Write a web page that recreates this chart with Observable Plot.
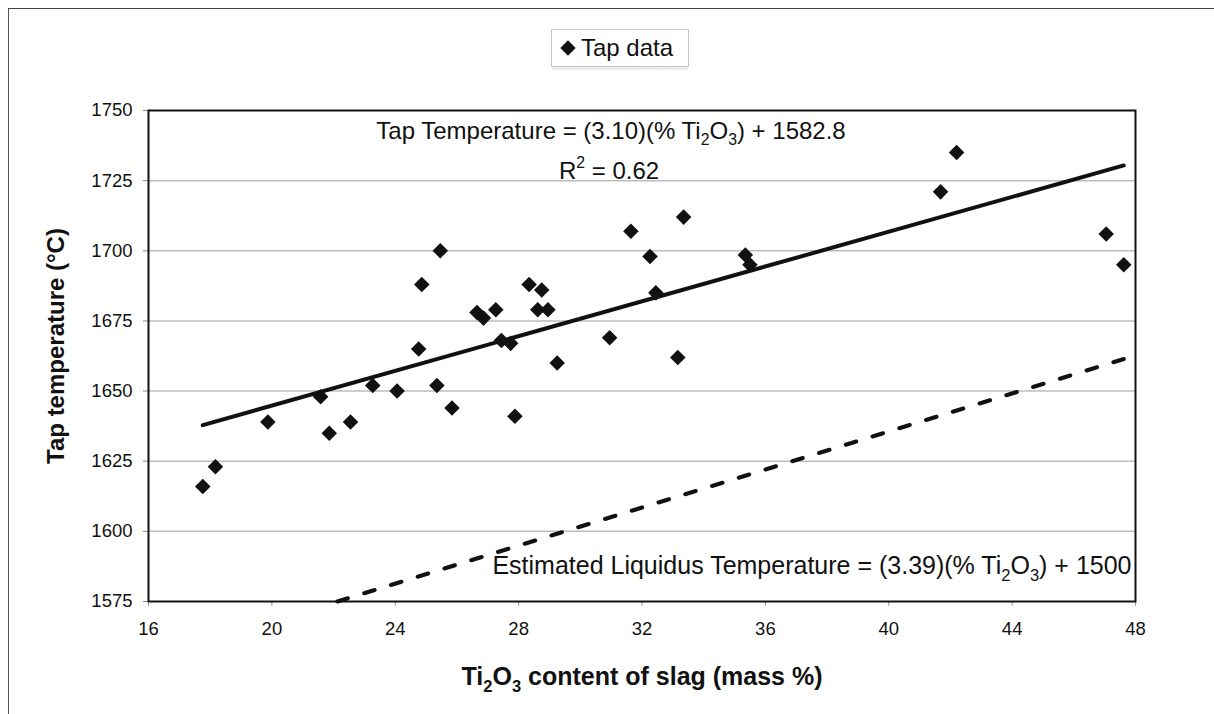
<!DOCTYPE html>
<html>
<head>
<meta charset="utf-8">
<script src="https://cdn.jsdelivr.net/npm/d3@7"></script>
<script src="https://cdn.jsdelivr.net/npm/@observablehq/plot@0.6"></script>
<style>
  html, body { margin: 0; padding: 0; background: #fff; }
  body { width: 1214px; height: 714px; position: relative; overflow: hidden;
         font-family: "Liberation Sans", Arial, sans-serif; }
  #sheet { position: absolute; left: 8px; top: 8px; width: 1230px; height: 730px;
           border-top: 1.5px solid #444; border-left: 1.5px solid #555; }
  #legend { position: absolute; left: 551px; top: 29px; width: 138px; height: 38px;
            border: 1px solid #c9c9c9; box-shadow: 0 4px 0 -1px #ececec; background: #fff;
            display: flex; align-items: center; box-sizing: border-box; padding-left: 8px;
            font-size: 24px; color: #111; }
  #legend svg { margin-right: 5px; }
  #chart { position: absolute; left: 0; top: 80px; }
</style>
</head>
<body>
<div id="sheet"></div>
<div id="legend"></div>
<div id="chart"></div>
<script>
// Axis ticks
const xTicks = [16, 20, 24, 28, 32, 36, 40, 44, 48];
const yTicks = [1575, 1600, 1625, 1650, 1675, 1700, 1725, 1750];

// Tap data: Ti2O3 content of slag (mass %) and tap temperature (°C)
const ti2o3 = [
  17.76, 18.17, 19.87, 21.58, 21.86, 22.55, 23.27, 24.06, 24.76, 24.86,
  25.35, 25.46, 25.84, 26.65, 26.86, 27.26, 27.44, 27.74, 27.88, 28.34,
  28.75, 28.62, 28.95, 29.25, 30.95, 31.64, 32.26, 32.45, 33.16, 33.35,
  35.35, 35.50, 41.68, 42.20, 47.05, 47.62
];
const tapTemp = [
  1616, 1623, 1639, 1648, 1635, 1639, 1652, 1650, 1665, 1688,
  1652, 1700, 1644, 1678, 1676, 1679, 1668, 1667, 1641, 1688,
  1686, 1679, 1679, 1660, 1669, 1707, 1698, 1685, 1662, 1712,
  1698.5, 1695, 1721, 1735, 1706, 1695
];

// Linear fit of the tap data and the estimated liquidus relation
const fitSlope = 3.10, fitIntercept = 1582.8, fitR2 = 0.62;
const liqSlope = 3.39, liqIntercept = 1500;

const legendLabel = "Tap data";
const xTitle = "Ti_2O_3 content of slag (mass %)";
const yTitle = "Tap temperature (°C)";
const fitLabel = `Tap Temperature = (${fitSlope.toFixed(2)})(% Ti_2O_3) + ${fitIntercept.toFixed(1)}`;
const r2Label = `R^2 = ${fitR2.toFixed(2)}`;
const liqLabel = `Estimated Liquidus Temperature = (${liqSlope.toFixed(2)})(% Ti_2O_3) + ${liqIntercept}`;

const tap = ti2o3.map((x, i) => ({x, y: tapTemp[i]}));

// Fit line spans the range of the data
const [xMin, xMax] = d3.extent(ti2o3);
const fitLine = [xMin, xMax].map(x => ({x, y: fitSlope * x + fitIntercept}));

// Liquidus line runs from where it enters the y domain to the right edge
const yLo = yTicks[0];
const xHi = xTicks[xTicks.length - 1];
const liqStart = (yLo - liqIntercept) / liqSlope;
const liqLine = [liqStart, xHi].map(x => ({x, y: liqSlope * x + liqIntercept}));

const ink = "#111";

const chart = Plot.plot({
  width: 1214,
  height: 634,
  marginLeft: 148,
  marginRight: 79,
  marginTop: 30,
  marginBottom: 113,
  style: {fontFamily: "'Liberation Sans', Arial, sans-serif", fontSize: "18.5px", background: "transparent", color: ink},
  x: {domain: [xTicks[0], xHi]},
  y: {domain: [yLo, yTicks[yTicks.length - 1]]},
  marks: [
    Plot.ruleY(yTicks.slice(1, -1), {stroke: "#bdbdbd", strokeWidth: 1.5}),
    Plot.axisY({ticks: yTicks, tickFormat: d3.format("d"), tickSize: 5, tickPadding: 11, label: null, stroke: "#888"}),
    Plot.axisX({ticks: xTicks, tickFormat: d3.format("d"), tickSize: 5, tickPadding: 15, label: null, stroke: "#999"}),
    Plot.frame({stroke: ink, strokeWidth: 2}),
    Plot.line(liqLine, {x: "x", y: "y", stroke: ink, strokeWidth: 4, strokeDasharray: "11,17"}),
    Plot.line(fitLine, {x: "x", y: "y", stroke: ink, strokeWidth: 4}),
    Plot.dot(tap, {x: "x", y: "y", symbol: "diamond2", r: 7, fill: ink, stroke: "none"}),
    Plot.text([fitLabel], {frameAnchor: "top", dx: -31, dy: 28, lineAnchor: "bottom", textAnchor: "middle", fontSize: 24, fill: ink}),
    Plot.text([r2Label], {frameAnchor: "top", dx: -33, dy: 68, lineAnchor: "bottom", textAnchor: "middle", fontSize: 24, fill: ink}),
    Plot.text([liqLabel], {frameAnchor: "bottom-right", dx: -4, dy: -28, lineAnchor: "bottom", textAnchor: "end", fontSize: 25, fill: ink}),
    Plot.text([yTitle], {frameAnchor: "left", dx: -92, dy: -10, rotate: -90, textAnchor: "middle", lineAnchor: "middle", fontSize: 24, fontWeight: "bold", fill: ink}),
    Plot.text([xTitle], {frameAnchor: "bottom", dy: 83, lineAnchor: "bottom", textAnchor: "middle", fontSize: 25, fontWeight: "bold", fill: ink})
  ]
});
document.getElementById("chart").append(chart);

// Turn "_n" into subscripts and "^n" into superscripts
const NS = "http://www.w3.org/2000/svg";
d3.select(chart).selectAll("text").each(function () {
  const s = this.textContent;
  if (!/[_^]\d/.test(s)) return;
  const fs = parseFloat(getComputedStyle(this).fontSize);
  while (this.firstChild) this.removeChild(this.firstChild);
  let offset = 0;
  for (const part of s.split(/([_^]\d)/)) {
    if (!part) continue;
    const t = document.createElementNS(NS, "tspan");
    if (part[0] === "_" || part[0] === "^") {
      const shift = part[0] === "_" ? 0.28 * fs : -0.42 * fs;
      t.setAttribute("font-size", (0.66 * fs).toFixed(1));
      t.setAttribute("dy", (shift - offset).toFixed(1));
      offset = shift;
      t.textContent = part[1];
    } else {
      if (offset) t.setAttribute("dy", (-offset).toFixed(1));
      offset = 0;
      t.textContent = part;
    }
    this.appendChild(t);
  }
});

// Legend
const legend = d3.select("#legend");
const sw = legend.append("svg").attr("width", 16).attr("height", 16);
sw.append("path").attr("d", d3.symbol(d3.symbolDiamond2, 150)()).attr("transform", "translate(8,8)").attr("fill", ink);
legend.append("span").text(legendLabel);
</script>
</body>
</html>
